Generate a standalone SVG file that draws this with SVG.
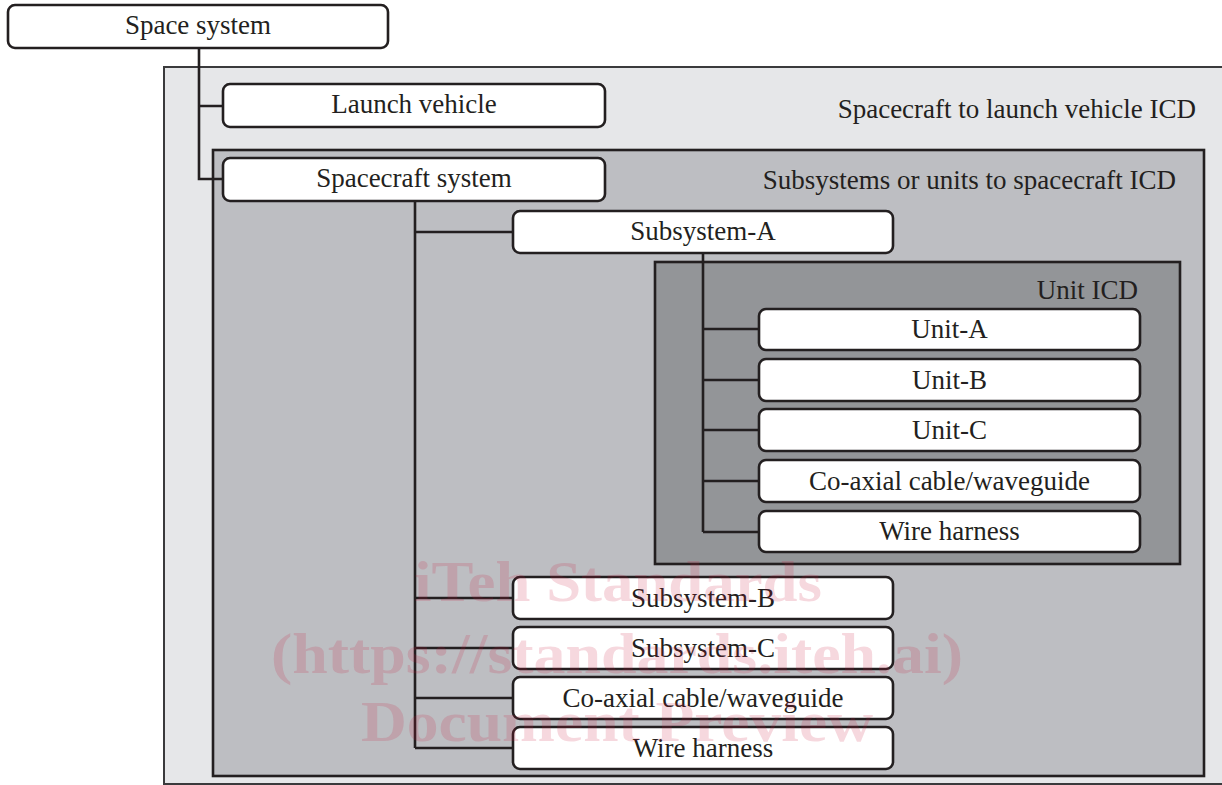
<svg xmlns="http://www.w3.org/2000/svg" width="1222" height="785" viewBox="0 0 1222 785">
<style>
.node rect{fill:#ffffff;stroke:#231f20;stroke-width:2.6}
.node text,.lbl{font-family:"Liberation Serif","Times New Roman",serif;font-size:27px;fill:#231f20}
.node text{text-anchor:middle}
.lbl{text-anchor:end}
.conn path{fill:none;stroke:#231f20;stroke-width:2.6}
.wm{font-family:"Liberation Serif","Times New Roman",serif;font-weight:bold;font-size:58px;fill:#c8183c;fill-opacity:0.17;text-anchor:middle}
</style>
<rect x="164" y="67" width="1070" height="717" fill="#e6e7e9" stroke="#3a3a3c" stroke-width="2"/>
<rect x="213" y="150" width="991" height="626" fill="#bdbec2" stroke="#231f20" stroke-width="2.6"/>
<rect x="655" y="262" width="525" height="302" fill="#939598" stroke="#231f20" stroke-width="2.6"/>
<text class="lbl" x="1196" y="118">Spacecraft to launch vehicle ICD</text>
<text class="lbl" x="1176" y="189">Subsystems or units to spacecraft ICD</text>
<text class="lbl" x="1138" y="299">Unit ICD</text>
<g class="conn">
<path d="M199 48V179H223M199 106H223"/>
<path d="M415 201V748M415 232H513M415 598H513M415 648H513M415 698H513M415 748H513"/>
<path d="M703 253V532M703 329H759M703 380H759M703 430H759M703 481H759M703 532H759"/>
</g>
<g id="space-system" class="node"><rect x="8" y="5" width="380" height="43" rx="7"/><text x="198" y="34">Space system</text></g>
<g id="launch-vehicle" class="node"><rect x="223" y="84" width="382" height="43" rx="7"/><text x="414" y="113">Launch vehicle</text></g>
<g id="spacecraft-system" class="node"><rect x="223" y="158" width="382" height="43" rx="7"/><text x="414" y="187">Spacecraft system</text></g>
<g id="subsystem-a" class="node"><rect x="513" y="211" width="380" height="42" rx="7"/><text x="703" y="240">Subsystem-A</text></g>
<g id="unit-a" class="node"><rect x="759" y="309" width="381" height="41" rx="7"/><text x="949.5" y="338">Unit-A</text></g>
<g id="unit-b" class="node"><rect x="759" y="359" width="381" height="42" rx="7"/><text x="949.5" y="389">Unit-B</text></g>
<g id="unit-c" class="node"><rect x="759" y="409" width="381" height="42" rx="7"/><text x="949.5" y="439">Unit-C</text></g>
<g id="unit-coax" class="node"><rect x="759" y="460" width="381" height="42" rx="7"/><text x="949.5" y="490">Co-axial cable/waveguide</text></g>
<g id="unit-wire" class="node"><rect x="759" y="511" width="381" height="41" rx="7"/><text x="949.5" y="540">Wire harness</text></g>
<g id="subsystem-b" class="node"><rect x="513" y="577" width="380" height="42" rx="7"/><text x="703" y="607">Subsystem-B</text></g>
<g id="subsystem-c" class="node"><rect x="513" y="627" width="380" height="42" rx="7"/><text x="703" y="657">Subsystem-C</text></g>
<g id="sc-coax" class="node"><rect x="513" y="677" width="380" height="42" rx="7"/><text x="703" y="707">Co-axial cable/waveguide</text></g>
<g id="sc-wire" class="node"><rect x="513" y="727" width="380" height="42" rx="7"/><text x="703" y="757">Wire harness</text></g>
<g id="watermark">
<text class="wm" x="618" y="601" textLength="408" lengthAdjust="spacingAndGlyphs">iTeh Standards</text>
<text class="wm" x="617" y="673" textLength="692" lengthAdjust="spacingAndGlyphs">(https://standards.iteh.ai)</text>
<text class="wm" x="617" y="741" textLength="512" lengthAdjust="spacingAndGlyphs">Document Preview</text>
</g>
</svg>
